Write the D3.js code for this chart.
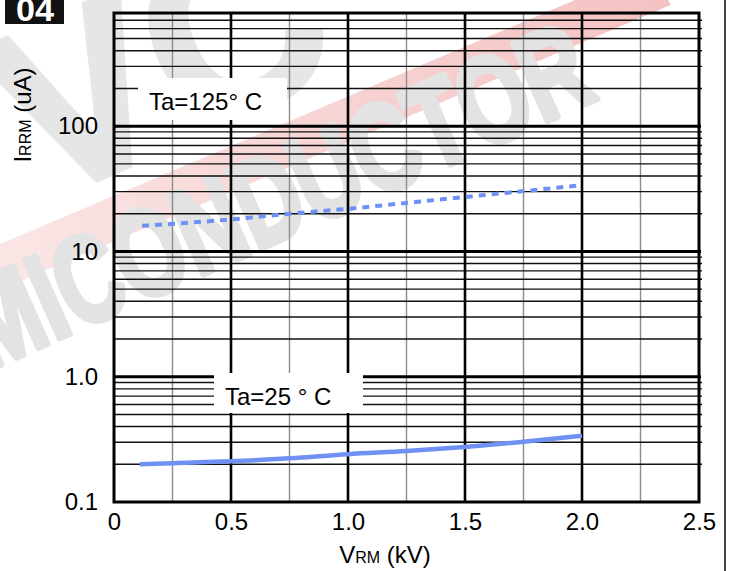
<!DOCTYPE html>
<html>
<head>
<meta charset="utf-8">
<script src="https://cdn.jsdelivr.net/npm/d3@7"></script>
<style>
  body { margin: 0; background: #fff; }
  svg { display: block; }
  text { font-family: "Liberation Sans", Arial, sans-serif; }
</style>
</head>
<body>
<div id="chart"></div>
<script>
// Data
const kvHot = [0.12, 0.25, 0.5, 0.75, 1.0, 1.25, 1.5, 1.75, 2.0];
const irrmHot = [16.0, 16.6, 18.0, 20.0, 21.9, 24.4, 27.2, 30.3, 33.8];   // Ta=125°C
const kvCold = [0.11, 0.25, 0.5, 0.75, 1.0, 1.25, 1.5, 1.75, 2.0];
const irrmCold = [0.200, 0.204, 0.211, 0.223, 0.241, 0.255, 0.275, 0.302, 0.338]; // Ta=25°C

const xTicks = [0, 0.5, 1.0, 1.5, 2.0, 2.5];
const xTickLabels = ["0", "0.5", "1.0", "1.5", "2.0", "2.5"];
const xMinor = [0.25, 0.75, 1.25, 1.75, 2.25];
const yTicks = [0.1, 1, 10, 100];
const yTickLabels = ["0.1", "1.0", "10", "100"];
const yDomain = [0.1, 800];

const width = 730;
const height = 571;
const pLeft = 114, pRight = 699, pTop = 13, pBottom = 502;

const svg = d3.select("#chart")
    .append("svg")
    .attr("width", width)
    .attr("height", height);

const x = d3.scaleLinear().domain([0, 2.5]).range([pLeft, pRight]);
const y = d3.scaleLog().domain(yDomain).range([pBottom, pTop]);

// minor horizontal values 2..9 in every decade
const yMinor = [];
yTicks.forEach(d => {
    for (let m = 2; m <= 9; m++) {
        const v = d * m;
        if (v < yDomain[1] - 1e-9) yMinor.push(v);
    }
});

// watermark (faint logo behind the grid)
const wm = svg.append("g").attr("class", "watermark");
const grad = svg.append("defs").append("linearGradient")
    .attr("id", "band").attr("x1", "0").attr("x2", "1").attr("y1", "0").attr("y2", "0");
grad.append("stop").attr("offset", "0").attr("stop-color", "#fbe8e8");
grad.append("stop").attr("offset", "1").attr("stop-color", "#f4c2c2");
wm.append("rect")
    .attr("x", -40).attr("y", -22).attr("width", 760).attr("height", 42)
    .attr("fill", "url(#band)")
    .attr("transform", "translate(0,268) rotate(-23)");
wm.append("text")
    .attr("transform", "translate(40,205) rotate(-24)")
    .attr("font-size", 240)
    .attr("font-weight", "bold")
    .attr("fill", "#e6e6e6")
    .attr("stroke", "#e6e6e6").attr("stroke-width", 6)
    .text("VC");
wm.append("text")
    .attr("transform", "translate(600,98) rotate(-24)")
    .attr("text-anchor", "end")
    .attr("font-size", 124)
    .attr("font-weight", "bold")
    .attr("textLength", 790)
    .attr("lengthAdjust", "spacingAndGlyphs")
    .attr("fill", "#e3e3e3")
    .attr("stroke", "#e3e3e3").attr("stroke-width", 6)
    .attr("stroke-linejoin", "round")
    .text("SEMICONDUCTOR");

// grid
const grid = svg.append("g");
grid.selectAll(".vminor")
    .data(xMinor)
    .enter().append("line")
    .attr("x1", d => x(d)).attr("x2", d => x(d))
    .attr("y1", pTop).attr("y2", pBottom)
    .attr("stroke", "#8c8c8c").attr("stroke-width", 1.4);
grid.selectAll(".hminor")
    .data(yMinor)
    .enter().append("line")
    .attr("x1", pLeft).attr("x2", pRight + 3)
    .attr("y1", d => y(d)).attr("y2", d => y(d))
    .attr("stroke", "#111").attr("stroke-width", 1.4);
grid.selectAll(".vmajor")
    .data(xTicks.slice(1, -1))
    .enter().append("line")
    .attr("x1", d => x(d)).attr("x2", d => x(d))
    .attr("y1", pTop).attr("y2", pBottom)
    .attr("stroke", "#000").attr("stroke-width", 2.6);
grid.selectAll(".hmajor")
    .data(yTicks.slice(1))
    .enter().append("line")
    .attr("x1", pLeft).attr("x2", pRight + 2)
    .attr("y1", d => y(d)).attr("y2", d => y(d))
    .attr("stroke", "#000").attr("stroke-width", 3);

// frame
svg.append("rect")
    .attr("x", pLeft).attr("y", pTop)
    .attr("width", pRight - pLeft).attr("height", pBottom - pTop)
    .attr("fill", "none").attr("stroke", "#000").attr("stroke-width", 3);

// label boxes
function labelBox(bx, by, bw, bh, tx, ty, txt) {
    svg.append("rect").attr("x", bx).attr("y", by).attr("width", bw).attr("height", bh).attr("fill", "#fff");
    svg.append("text").attr("x", tx).attr("y", ty).attr("font-size", 24).attr("fill", "#000").text(txt);
}
labelBox(138, 78, 149, 42, 149, 110, "Ta=125° C");
labelBox(214, 373, 149, 40, 225, 405, "Ta=25 ° C");

// curves
const lineHot = d3.line()
    .x((d, i) => x(kvHot[i]))
    .y(d => y(d))
    .curve(d3.curveMonotoneX);
const lineCold = d3.line()
    .x((d, i) => x(kvCold[i]))
    .y(d => y(d))
    .curve(d3.curveMonotoneX);

svg.append("path")
    .datum(irrmHot)
    .attr("fill", "none")
    .attr("stroke", "#6e91f3")
    .attr("stroke-width", 4)
    .attr("stroke-dasharray", "7,6")
    .attr("d", lineHot);

svg.append("path")
    .datum(irrmCold)
    .attr("fill", "none")
    .attr("stroke", "#6e91f3")
    .attr("stroke-width", 4.5)
    .attr("d", lineCold);

// axes (labels only)
const xAxis = svg.append("g")
    .attr("transform", `translate(0,${pBottom})`)
    .call(d3.axisBottom(x).tickValues(xTicks)
        .tickFormat((d, i) => xTickLabels[i]).tickSize(0).tickPadding(11));
const yAxis = svg.append("g")
    .attr("transform", `translate(${pLeft},0)`)
    .call(d3.axisLeft(y).tickValues(yTicks)
        .tickFormat((d, i) => yTickLabels[i]).tickSize(0).tickPadding(16));
[xAxis, yAxis].forEach(a => {
    a.select(".domain").remove();
    a.selectAll("text")
        .attr("font-size", 24)
        .attr("fill", "#000")
        .style("font-family", "'Liberation Sans', Arial, sans-serif");
});

// axis titles
const xt = svg.append("text")
    .attr("x", 385).attr("y", 563)
    .attr("text-anchor", "middle")
    .attr("font-size", 24);
xt.append("tspan").text("V");
xt.append("tspan").attr("font-size", 16).text("RM");
xt.append("tspan").text(" (kV)");

const yt = svg.append("text")
    .attr("transform", "translate(31,115) rotate(-90)")
    .attr("text-anchor", "middle")
    .attr("font-size", 24);
yt.append("tspan").text("I");
yt.append("tspan").attr("font-size", 16).text("RRM");
yt.append("tspan").text(" (uA)");

// figure tag
svg.append("rect").attr("x", 5).attr("y", 0).attr("width", 59).attr("height", 24).attr("fill", "#111");
svg.append("text")
    .attr("x", 35).attr("y", 21)
    .attr("text-anchor", "middle")
    .attr("font-size", 34)
    .attr("font-weight", "bold")
    .attr("textLength", 38)
    .attr("lengthAdjust", "spacingAndGlyphs")
    .attr("fill", "#fff")
    .text("04");

// page border on the right
svg.append("line")
    .attr("x1", 725).attr("x2", 725).attr("y1", 0).attr("y2", height)
    .attr("stroke", "#444").attr("stroke-width", 2);
</script>
</body>
</html>
